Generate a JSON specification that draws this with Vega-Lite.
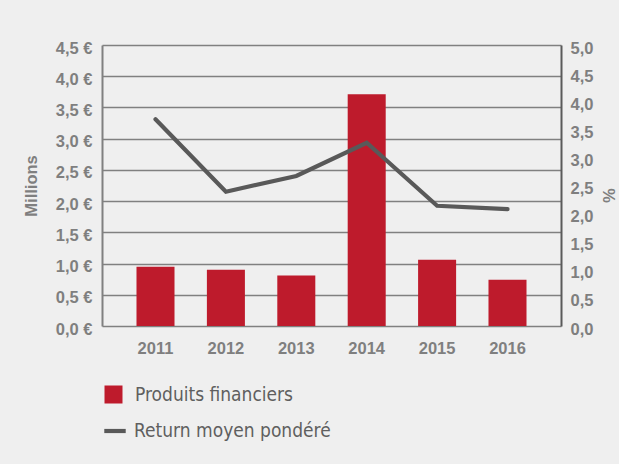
{
  "$schema": "https://vega.github.io/schema/vega-lite/v6.json",
  "width": 459,
  "height": 281,
  "autosize": {"type": "none"},
  "padding": {"left": 102, "top": 45, "right": 58, "bottom": 138},
  "background": "#efefef",
  "config": {
    "view": {"stroke": null},
    "font": "Liberation Sans",
    "axis": {
      "labelFont": "Liberation Sans",
      "labelFontWeight": "bold",
      "labelFontSize": 16.5,
      "labelColor": "#7f7f7f",
      "titleFont": "Liberation Sans",
      "titleFontWeight": "bold",
      "titleFontSize": 16.5,
      "titleColor": "#7f7f7f",
      "ticks": false
    }
  },
  "data": {
    "values": [
      {"year": "2011", "produits": 0.95, "return": 3.68},
      {"year": "2012", "produits": 0.90, "return": 2.39},
      {"year": "2013", "produits": 0.81, "return": 2.67},
      {"year": "2014", "produits": 3.71, "return": 3.26},
      {"year": "2015", "produits": 1.06, "return": 2.14},
      {"year": "2016", "produits": 0.74, "return": 2.08}
    ]
  },
  "encoding": {
    "x": {
      "field": "year",
      "type": "ordinal",
      "scale": {"paddingInner": 0.46, "paddingOuter": 0.49},
      "axis": {"title": null, "domain": false, "labelAngle": 0, "labelPadding": 14}
    }
  },
  "layer": [
    {
      "mark": {"type": "bar"},
      "encoding": {
        "y": {
          "field": "produits",
          "type": "quantitative",
          "scale": {"domain": [0, 4.5], "nice": false},
          "axis": {
            "title": "Millions",
            "values": [0, 0.5, 1, 1.5, 2, 2.5, 3, 3.5, 4, 4.5],
            "labelExpr": "replace(format(datum.value, '.1f'), '.', ',') + ' €'",
            "grid": true,
            "gridColor": "#808080",
            "gridWidth": 1.4,
            "gridOpacity": 1,
            "domainColor": "#808080",
            "domainWidth": 2,
            "labelPadding": 10,
            "labelOffset": 3,
            "titlePadding": 16
          }
        },
        "fill": {
          "datum": "Produits financiers",
          "scale": {"range": ["#be1b2c"]},
          "legend": {
            "orient": "none",
            "legendX": 2,
            "legendY": 340,
            "title": null,
            "padding": 0,
            "symbolType": "square",
            "symbolSize": 324,
            "symbolStrokeWidth": 0,
            "labelFont": "DejaVu Sans Condensed",
            "labelFontSize": 19,
            "labelColor": "#5f5f5f",
            "labelOffset": 12,
            "labelLimit": 400
          }
        }
      }
    },
    {
      "mark": {"type": "line", "strokeWidth": 4.2, "strokeCap": "round", "strokeJoin": "miter"},
      "encoding": {
        "y": {
          "field": "return",
          "type": "quantitative",
          "scale": {"domain": [0, 5], "nice": false},
          "axis": {
            "orient": "right",
            "title": "%",
            "values": [0, 0.5, 1, 1.5, 2, 2.5, 3, 3.5, 4, 4.5, 5],
            "labelExpr": "replace(format(datum.value, '.1f'), '.', ',')",
            "grid": false,
            "domainColor": "#5a5a5a",
            "domainWidth": 2,
            "labelPadding": 9,
            "labelOffset": 3,
            "titlePadding": 7,
            "titleY": 150,
            "titleAlign": "center"
          }
        },
        "stroke": {
          "datum": "Return moyen pondéré",
          "scale": {"range": ["#595959"]},
          "legend": {
            "orient": "none",
            "legendX": 0,
            "legendY": 373,
            "title": null,
            "padding": 0,
            "symbolType": "stroke",
            "symbolSize": 460,
            "symbolStrokeWidth": 4.2,
            "labelFont": "DejaVu Sans Condensed",
            "labelFontSize": 19,
            "labelColor": "#5f5f5f",
            "labelOffset": 6,
            "labelLimit": 400
          }
        }
      }
    }
  ],
  "resolve": {"scale": {"y": "independent"}}
}
